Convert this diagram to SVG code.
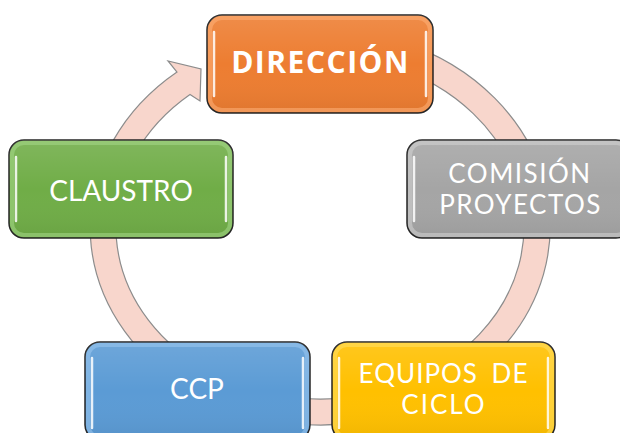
<svg xmlns="http://www.w3.org/2000/svg" width="620" height="433" viewBox="0 0 620 433">
<style>
.box{stroke:#262626;stroke-width:1.5}
.glow{fill:none;stroke-width:4;stroke-opacity:0.55}
.hl{fill:none;stroke:#ffffff;stroke-width:2.5;stroke-linecap:round;stroke-opacity:0.85}
.t{font-family:Lato,"Open Sans",sans-serif;font-size:28px;fill:#ffffff;text-anchor:middle}
.t2{font-family:Lato,"Open Sans",sans-serif;font-size:26px;fill:#ffffff;text-anchor:middle;letter-spacing:1.5px}
.b{font-family:"Open Sans",Lato,sans-serif;font-weight:bold;font-size:30px;letter-spacing:1.5px}
.ring{fill:#F8D6CC;stroke:#8C8C8C;stroke-width:1.2;stroke-linejoin:miter}
</style>
<defs>
<linearGradient id="shade" x1="0" y1="0" x2="0" y2="1">
<stop offset="0" stop-color="#ffffff" stop-opacity="0.12"/>
<stop offset="0.5" stop-color="#ffffff" stop-opacity="0"/>
<stop offset="1" stop-color="#000000" stop-opacity="0.06"/>
</linearGradient>
</defs>
<g id="connectors">
<path class="ring" d="M300,29.75 A230,198 0 1 1 177,72 L168,61 L201,69 L200,101 L190,94.4 A204,172 0 1 0 300,55.83 Z"/>
</g>
<g id="direccion">
<rect class="box" x="207" y="15" width="226" height="98" rx="15" fill="#ED7D31"/>
<rect x="207" y="15" width="226" height="98" rx="15" fill="url(#shade)"/>
<rect class="glow" x="210" y="18" width="220" height="92" rx="12" stroke="#FFB27A"/>
<line class="hl" x1="214" y1="32" x2="214" y2="96" stroke="#FFF2C0"/>
<line class="hl" x1="426" y1="32" x2="426" y2="96" stroke="#FFF2C0"/>
<text class="t b" x="320.5" y="73">DIRECCIÓN</text>
</g>
<g id="claustro">
<rect class="box" x="9" y="140" width="224" height="98" rx="15" fill="#70AD47"/>
<rect x="9" y="140" width="224" height="98" rx="15" fill="url(#shade)"/>
<rect class="glow" x="12" y="143" width="218" height="92" rx="12" stroke="#A6D98A"/>
<line class="hl" x1="16" y1="157" x2="16" y2="221"/>
<line class="hl" x1="226" y1="157" x2="226" y2="221"/>
<text class="t" x="121" y="201">CLAUSTRO</text>
</g>
<g id="comision">
<rect class="box" x="407" y="140" width="224" height="98" rx="15" fill="#A5A5A5"/>
<rect x="407" y="140" width="224" height="98" rx="15" fill="url(#shade)"/>
<rect class="glow" x="410" y="143" width="218" height="92" rx="12" stroke="#D4D4D4"/>
<line class="hl" x1="414" y1="157" x2="414" y2="221"/>
<text class="t2"><tspan x="520" y="182.5">COMISIÓN</tspan><tspan x="520.5" y="213.5">PROYECTOS</tspan></text>
</g>
<g id="ccp">
<rect class="box" x="85" y="342" width="225" height="98" rx="15" fill="#5B9BD5"/>
<rect x="85" y="342" width="225" height="98" rx="15" fill="url(#shade)"/>
<rect class="glow" x="88" y="345" width="219" height="92" rx="12" stroke="#9CC8F0"/>
<line class="hl" x1="92" y1="358" x2="92" y2="428"/>
<line class="hl" x1="303" y1="358" x2="303" y2="428"/>
<text class="t" x="197" y="399">CCP</text>
</g>
<g id="equipos">
<rect class="box" x="332" y="342" width="223" height="98" rx="15" fill="#FFC000"/>
<rect x="332" y="342" width="223" height="98" rx="15" fill="url(#shade)"/>
<rect class="glow" x="335" y="345" width="217" height="92" rx="12" stroke="#FFE066"/>
<line class="hl" x1="339" y1="358" x2="339" y2="428" stroke="#FFFF99"/>
<line class="hl" x1="548" y1="358" x2="548" y2="428" stroke="#FFFF99"/>
<text class="t2"><tspan x="443.5" y="382.5" letter-spacing="1" word-spacing="6">EQUIPOS DE</tspan><tspan x="444" y="413.5" letter-spacing="2">CICLO</tspan></text>
</g>
</svg>
